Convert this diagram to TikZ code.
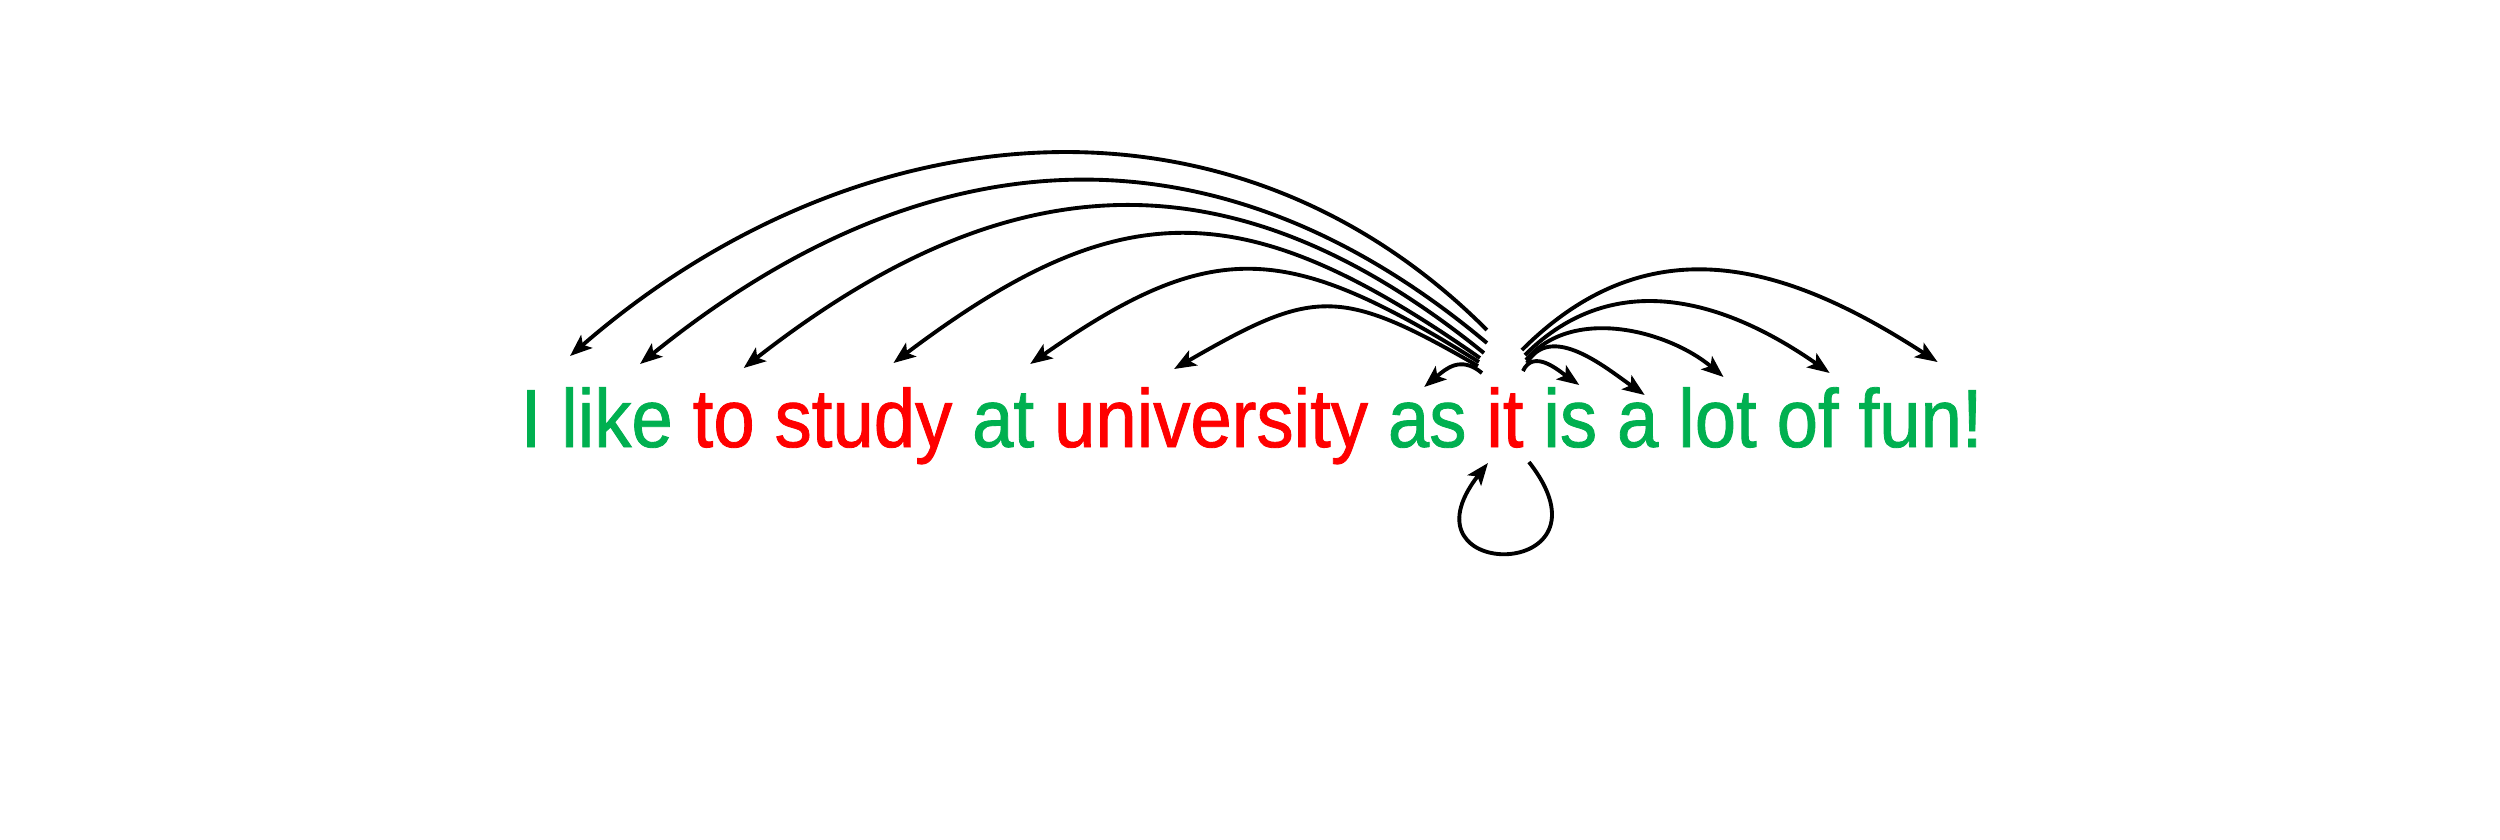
\documentclass[tikz,border=0pt]{standalone}
\usepackage{fontspec}
\setmainfont{Liberation Sans}[FakeStretch=0.9,FakeBold=1]
\usetikzlibrary{arrows.meta,positioning}
\definecolor{wordgreen}{HTML}{00B050}
\definecolor{wordred}{HTML}{FF0000}

\begin{document}
\begin{tikzpicture}[
      node distance=1.85mm,
      word/.style={inner sep=0pt, font=\fontsize{23.5}{28}\selectfont},
      keep/.style={word, text=wordgreen},
      drop/.style={word, text=wordred},
      arc/.style={-{Stealth[length=2.2mm,width=1.7mm,inset=0.5mm]}, line width=1.1pt}
    ]
      \useasboundingbox (0,0) rectangle (25,-8.39);

      \node[keep, anchor=base west] (wI) at (5.20,-4.47) {I};
      \node[keep, base right=of wI] (wLike) {like};
      \node[drop, base right=of wLike] (wTo) {to};
      \node[drop, base right=of wTo] (wStudy) {study};
      \node[keep, base right=of wStudy] (wAt) {at};
      \node[drop, base right=of wAt] (wUniv) {university};
      \node[keep, base right=of wUniv] (wAs) {as};
      \node[drop, base right=of wAs] (wIt) {it};
      \node[keep, base right=of wIt] (wIs) {is};
      \node[keep, base right=of wIs] (wA) {a};
      \node[keep, base right=of wA] (wLot) {lot};
      \node[keep, base right=of wLot] (wOf) {of};
      \node[keep, base right=of wOf] (wFun) {fun!};

      \draw[arc] ([shift={(-0.18,1.17)}]wIt.base) to[out=135,in=41,looseness=1.03] ([shift={(0.39,0.91)}]wI.base);
      \draw[arc] ([shift={(-0.18,1.04)}]wIt.base) to[out=140,in=39,looseness=1.09] ([shift={(0.23,0.83)}]wLike.base);
      \draw[arc] ([shift={(-0.21,0.94)}]wIt.base) to[out=141,in=38,looseness=1.14] ([shift={(0.20,0.79)}]wTo.base);
      \draw[arc] ([shift={(-0.25,0.89)}]wIt.base) to[out=145,in=37,looseness=1.25] ([shift={(0.30,0.84)}]wStudy.base);
      \draw[arc] ([shift={(-0.26,0.85)}]wIt.base) to[out=148,in=35,looseness=1.28] ([shift={(0.27,0.83)}]wAt.base);
      \draw[arc] ([shift={(-0.27,0.81)}]wIt.base) to[out=150,in=30,looseness=1.35] ([shift={(-0.37,0.78)}]wUniv.base);
      \draw[arc] ([shift={(-0.23,0.74)}]wIt.base) to[out=140,in=40,looseness=1.2] ([shift={(-0.03,0.60)}]wAs.base);

      \draw[arc] ([shift={(0.18,0.76)}]wIt.base) to[out=65,in=145,looseness=1.1] ([shift={(0.09,0.62)}]wIs.base);
      \draw[arc] ([shift={(0.22,0.84)}]wIt.base) to[out=60,in=145,looseness=1.0] ([shift={(0.07,0.52)}]wA.base);
      \draw[arc] ([shift={(0.21,0.87)}]wIt.base) to[out=50,in=140,looseness=0.93] ([shift={(0.06,0.70)}]wLot.base);
      \draw[arc] ([shift={(0.20,0.92)}]wIt.base) to[out=45,in=145,looseness=1.06] ([shift={(0.22,0.74)}]wOf.base);
      \draw[arc] ([shift={(0.17,0.97)}]wIt.base) to[out=45,in=147,looseness=1.11] ([shift={(0.17,0.85)}]wFun.base);

      \draw[arc] ([shift={(0.24,-0.15)}]wIt.base) to[out=-52,in=-128,looseness=9.5] ([shift={(-0.17,-0.16)}]wIt.base);
    \end{tikzpicture}
\end{document}
